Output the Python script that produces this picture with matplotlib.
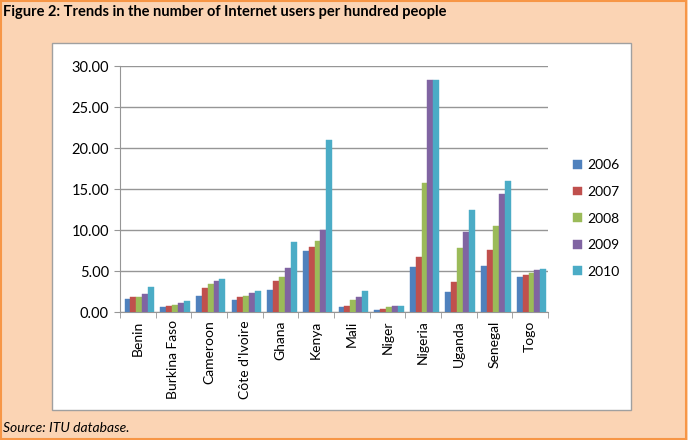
import numpy as np
import matplotlib.pyplot as plt
from matplotlib.patches import Rectangle

countries = ["Benin", "Burkina Faso", "Cameroon", "Côte d'Ivoire", "Ghana", "Kenya",
             "Mali", "Niger", "Nigeria", "Uganda", "Senegal", "Togo"]
years = ["2006", "2007", "2008", "2009", "2010"]
v2006 = [1.6, 0.6, 2.0, 1.5, 2.7, 7.5, 0.65, 0.2, 5.5, 2.5, 5.6, 4.3]
v2007 = [1.8, 0.75, 2.9, 1.8, 3.8, 7.9, 0.75, 0.35, 6.7, 3.6, 7.6, 4.5]
v2008 = [1.85, 0.9, 3.4, 2.0, 4.3, 8.6, 1.5, 0.65, 15.7, 7.8, 10.5, 4.8]
v2009 = [2.2, 1.1, 3.8, 2.3, 5.4, 10.0, 1.85, 0.75, 28.3, 9.7, 14.4, 5.1]
v2010 = [3.1, 1.4, 4.0, 2.6, 8.5, 21.0, 2.6, 0.78, 28.3, 12.4, 16.0, 5.3]
series = [v2006, v2007, v2008, v2009, v2010]
colors = ["#4F81BD", "#C0504D", "#9BBB59", "#8064A2", "#4BACC6"]

plt.rcParams['font.family'] = ['Lato', 'DejaVu Sans']

fig = plt.figure(figsize=(6.88, 4.40), dpi=100)
fig.patch.set_facecolor("#FBD4B4")
fig.patches.append(Rectangle((0.001, 0.003), 0.996, 0.994, transform=fig.transFigure,
                             fill=False, edgecolor="#F79646", linewidth=1.5, zorder=-2))
fig.patches.append(Rectangle((0.0756, 0.068), 0.8416, 0.834, transform=fig.transFigure,
                             facecolor="white", edgecolor="#A0A0A0", linewidth=1.0,
                             zorder=-1))

fig.text(0.004, 0.972, "Figure 2: Trends in the number of Internet users per hundred people",
         fontsize=10.5, fontweight="bold", va="center", ha="left")
fig.text(0.004, 0.027, "Source: ITU database.", fontsize=10, style="italic",
         va="center", ha="left")

ax = fig.add_axes([0.1744, 0.2909, 0.622, 0.559])
ax.patch.set_alpha(0)
x = np.arange(len(countries))
w = 0.165
for i, (vals, c) in enumerate(zip(series, colors)):
    ax.bar(x + (i - 2) * w + 0.04, vals, width=w, color=c, edgecolor=c,
           linewidth=0.3, label=years[i], zorder=3)

ax.set_xlim(-0.5, len(countries) - 0.5)
ax.set_ylim(0, 30)
ax.set_yticks(np.arange(0, 31, 5))
ax.set_yticklabels([f"{v:.2f}" for v in np.arange(0, 31, 5)], fontsize=10.5)
ax.yaxis.grid(True, color="#969696", linewidth=1.0, zorder=0)
ax.set_axisbelow(True)
ax.set_xticks(x)
ax.set_xticklabels(countries, rotation=90, fontsize=10)
ax.set_xticks(np.arange(-0.5, len(countries)), minor=True)
ax.tick_params(axis='x', which='major', length=0, pad=6)
ax.tick_params(axis='x', which='minor', length=4, color="#969696")
ax.tick_params(axis='y', length=4, color="#969696", pad=4)
for s in ["top", "right"]:
    ax.spines[s].set_visible(False)
for s in ["left", "bottom"]:
    ax.spines[s].set_color("#969696")

ax.legend(loc="center left", bbox_to_anchor=(1.03, 0.38), frameon=False, fontsize=10,
          handlelength=0.6, handleheight=0.6, handletextpad=0.4, labelspacing=1.05)

fig.savefig("out.png", dpi=100, facecolor=fig.get_facecolor())
